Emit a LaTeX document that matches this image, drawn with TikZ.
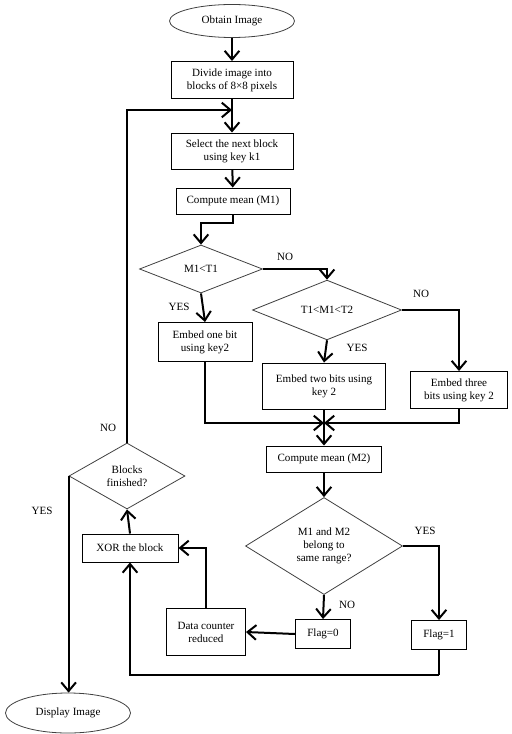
\documentclass[tikz,border=0pt]{standalone}
\usepackage{fontspec}
\setmainfont{Liberation Serif}
\usetikzlibrary{shapes.geometric,arrows.meta}

\begin{document}
\begin{tikzpicture}[x=0.75pt,y=-0.75pt,
  every node/.style={font=\fontsize{8.3}{9.8}\selectfont,align=center,inner sep=1pt},
  box/.style={draw,rectangle,line width=0.7pt},
  dec/.style={draw=black!75,diamond,line width=0.6pt,inner sep=0pt},
  term/.style={draw=black!75,ellipse,line width=0.6pt,inner sep=0pt},
  flow/.style={line width=1.5pt,-{Straight Barb[length=6.5pt,width=11pt]}},
  link/.style={line width=1.5pt}]
\useasboundingbox (0,0) rectangle (511,734);

\node[term,minimum width=93.75pt,minimum height=24.75pt] (obt) at (232,21) {Obtain Image};
\node[box,minimum width=91.5pt,minimum height=27.75pt] (divi) at (232,80) {Divide image into\\blocks of 8\texttimes8 pixels};
\node[box,minimum width=91.5pt,minimum height=27pt] (sel) at (232,151) {Select the next block\\using key k1};
\node[box,minimum width=85.5pt,minimum height=19.5pt] (m1) at (233,201) {Compute mean (M1)};
\node[dec,minimum width=92.25pt,minimum height=36pt] (d1) at (201,269) {M1\textless T1};
\node[box,minimum width=70.5pt,minimum height=29.25pt] (e1) at (205,342) {Embed one bit\\using key2};
\node[dec,minimum width=111.75pt,minimum height=39.75pt] (d2) at (327,310) {T1\textless M1\textless T2};
\node[box,minimum width=92.25pt,minimum height=34.5pt] (e2) at (324,386) {Embed two bits using\\key 2};
\node[box,minimum width=72.75pt,minimum height=27.75pt] (e3) at (459,390) {Embed three\\bits using key 2};
\node[box,minimum width=86.25pt,minimum height=19.5pt] (m2) at (324,459) {Compute mean (M2)};
\node[dec,minimum width=117.75pt,minimum height=72.75pt] (d3) at (324,546) {M1 and M2\\belong to\\same range?};
\node[box,minimum width=41.25pt,minimum height=21.75pt] (f0) at (323,634) {Flag=0};
\node[box,minimum width=41.25pt,minimum height=21.75pt] (f1) at (439,635) {Flag=1};
\node[box,minimum width=59.25pt,minimum height=35.25pt] (dc) at (206,632) {Data counter\\reduced};
\node[box,minimum width=72pt,minimum height=21pt] (xor) at (130,548) {XOR the block};
\node[dec,minimum width=87pt,minimum height=49.5pt] (bf) at (127,476) {Blocks\\finished?};
\node[term,minimum width=93.75pt,minimum height=30pt] (disp) at (68,713) {Display Image};

\node (no1) at (285,257) {NO};
\node (yes1) at (179,307) {YES};
\node (no2) at (421,294) {NO};
\node (yes2) at (357,348) {YES};
\node (no3) at (108,428) {NO};
\node (yes3) at (42,511) {YES};
\node (yes4) at (425,531) {YES};
\node (no4) at (347,605) {NO};

\coordinate (jn) at (232,110);
\coordinate (mg) at (324,423);
\coordinate (lp) at (439,675);

\draw[flow] (obt) -- (divi);
\draw[flow] (divi) -- (sel);
\draw[flow] (sel) -- (m1);
\draw[flow] (m1.south) -- ++(0,9) -| (d1.north);
\draw[flow] (d1.east) -| (d2.north);
\draw[flow] (d1.south) -- (e1.north);
\draw[flow] (d2.east) -| (e3.north);
\draw[flow] (d2.south) -- (e2.north);
\draw[flow] (e1.south) |- (mg);
\draw[flow] (e3.south) |- (mg);
\draw[flow] (e2.south) -- (m2.north);
\draw[flow] (m2) -- (d3);
\draw[flow] (d3.east) -| (f1.north);
\draw[flow] (d3.south) -- (f0.north);
\draw[flow] (f0.west) -- (dc.east);
\draw[flow] (dc.north) |- (xor.east);
\draw[link] (f1.south) -- (lp);
\draw[flow] (lp) -| (xor.south);
\draw[flow] (xor.north) -- (bf.south);
\draw[flow] (bf.north) |- (jn);
\draw[flow] (bf.west) -- (bf.west |- disp.north);
\end{tikzpicture}
\end{document}
